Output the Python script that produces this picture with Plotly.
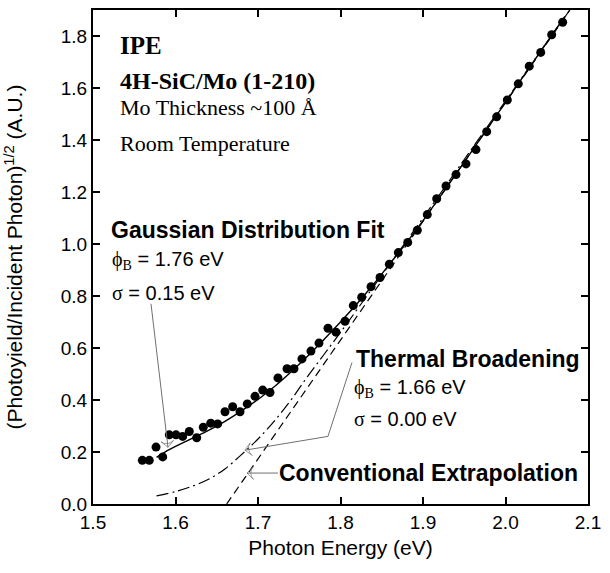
import plotly.graph_objects as go

# ---- data ----
data_x = [1.5598, 1.5682, 1.5764, 1.5845, 1.5925, 1.6006, 1.6087, 1.6167, 1.6257, 1.6337,
          1.6427, 1.6511, 1.6600, 1.6693, 1.6782, 1.6870, 1.6964, 1.7057, 1.7145, 1.7242,
          1.7352, 1.7436, 1.7533, 1.7642, 1.7739, 1.7848, 1.7945, 1.8055, 1.8155, 1.8257,
          1.8370, 1.8479, 1.8592, 1.8701, 1.8815, 1.8931, 1.9052, 1.9166, 1.9279, 1.9400,
          1.9521, 1.9642, 1.9772, 1.9893, 2.0022, 2.0155, 2.0288, 2.0427, 2.0560, 2.0693]
data_y = [0.168, 0.168, 0.219, 0.181, 0.266, 0.266, 0.260, 0.279, 0.255, 0.295,
          0.311, 0.308, 0.355, 0.374, 0.355, 0.385, 0.414, 0.438, 0.429, 0.485,
          0.520, 0.520, 0.558, 0.588, 0.619, 0.676, 0.661, 0.703, 0.763, 0.795,
          0.836, 0.871, 0.922, 0.967, 1.006, 1.053, 1.113, 1.174, 1.223, 1.267,
          1.308, 1.363, 1.432, 1.489, 1.554, 1.616, 1.684, 1.737, 1.805, 1.853]

gauss_x = [1.577, 1.59, 1.60, 1.62, 1.64, 1.66, 1.68, 1.70, 1.72, 1.74, 1.76, 1.78,
           1.80, 1.82, 1.84, 1.86, 1.88, 1.90, 1.95, 2.00, 2.05, 2.072]
gauss_y = [0.179, 0.205, 0.222, 0.252, 0.283, 0.318, 0.358, 0.402, 0.452, 0.508, 0.568, 0.633,
           0.700, 0.770, 0.845, 0.925, 1.005, 1.090, 1.315, 1.545, 1.775, 1.875]

thermal_x = [1.577, 1.60, 1.62, 1.64, 1.66, 1.68, 1.70, 1.72, 1.74, 1.76, 1.78, 1.80,
             1.85, 1.90, 1.95, 2.00, 2.05, 2.078]
thermal_y = [0.031, 0.048, 0.068, 0.095, 0.135, 0.19, 0.25, 0.32, 0.40, 0.49, 0.575, 0.66,
             0.88, 1.10, 1.325, 1.55, 1.775, 1.90]

conv_x = [1.662, 2.078]
conv_y = [0.0, 1.90]

# leader lines (tail ... tip) for the labels
lead_gauss_x = [1.5703, 1.5909]
lead_gauss_y = [0.770, 0.218]
lead_thermal_x = [1.8139, 1.7848, 1.6842]
lead_thermal_y = [0.544, 0.260, 0.207]
lead_conv_x = [1.7242, 1.6867]
lead_conv_y = [0.119, 0.119]

x_ticks = [1.5, 1.6, 1.7, 1.8, 1.9, 2.0, 2.1]
x_tick_text = ["1.5", "1.6", "1.7", "1.8", "1.9", "2.0", "2.1"]
y_ticks = [0.0, 0.2, 0.4, 0.6, 0.8, 1.0, 1.2, 1.4, 1.6, 1.8]
y_tick_text = ["0.0", "0.2", "0.4", "0.6", "0.8", "1.0", "1.2", "1.4", "1.6", "1.8"]

SANS = "Liberation Sans, Arial, sans-serif"
SERIF = "Liberation Serif, Times New Roman, serif"
GRAY = "#707070"

fig = go.Figure()
fig.add_trace(go.Scatter(x=conv_x, y=conv_y, mode="lines",
                         line=dict(color="black", width=1.2, dash="8px,5px"), showlegend=False))
fig.add_trace(go.Scatter(x=thermal_x, y=thermal_y, mode="lines", line_shape="spline",
                         line=dict(color="black", width=1.2, dash="12px,4px,2px,4px"), showlegend=False))
fig.add_trace(go.Scatter(x=gauss_x, y=gauss_y, mode="lines", line_shape="spline",
                         line=dict(color="black", width=1.4), showlegend=False))
fig.add_trace(go.Scatter(x=data_x, y=data_y, mode="markers",
                         marker=dict(color="black", size=9), showlegend=False))

for lx, ly in [(lead_gauss_x, lead_gauss_y), (lead_thermal_x, lead_thermal_y),
               (lead_conv_x, lead_conv_y)]:
    n = len(lx)
    fig.add_trace(go.Scatter(
        x=lx, y=ly, mode="lines+markers", showlegend=False, hoverinfo="skip",
        line=dict(color=GRAY, width=1),
        marker=dict(symbol=["circle"] * (n - 1) + ["arrow-wide-open"],
                    size=[0] * (n - 1) + [9], angleref="previous",
                    color=GRAY, line=dict(color=GRAY, width=1))))

def txt(x, y, s, font, size, bold=False):
    if bold:
        s = "<b>" + s + "</b>"
    fig.add_annotation(x=x, y=y, xref="x", yref="y", text=s, showarrow=False,
                       xanchor="left", yanchor="middle",
                       font=dict(family=font, size=size, color="black"))

phi = "<span style='font-family:Liberation Serif'>ϕ<sub>B</sub></span>"
sig = "<span style='font-family:Liberation Serif'>σ</span>"

txt(1.5303, 1.762, "IPE", SERIF, 25, True)
txt(1.5303, 1.626, "4H-SiC/Mo (1-210)", SERIF, 24, True)
txt(1.5303, 1.524, "Mo Thickness ~100 Å", SERIF, 22)
txt(1.5303, 1.386, "Room Temperature", SERIF, 22)
txt(1.5190, 1.053, "Gaussian Distribution Fit", SANS, 23, True)
txt(1.5206, 0.938, phi + " = 1.76 eV", SANS, 20)
txt(1.5206, 0.812, sig + " = 0.15 eV", SANS, 20)
txt(1.8160, 0.559, "Thermal Broadening", SANS, 23, True)
txt(1.8140, 0.444, phi + " = 1.66 eV", SANS, 20)
txt(1.8140, 0.326, sig + " = 0.00 eV", SANS, 20)
txt(1.7230, 0.119, "Conventional Extrapolation", SANS, 23, True)

axis_common = dict(showline=True, linewidth=2, linecolor="black", mirror="ticks",
                   ticks="inside", ticklen=7, tickwidth=2, tickcolor="black",
                   showgrid=False, zeroline=False,
                   tickfont=dict(family=SANS, size=19, color="black"))

fig.update_xaxes(range=[1.5, 2.1], tickvals=x_ticks, ticktext=x_tick_text,
                 title=dict(text="Photon Energy (eV)", font=dict(family=SANS, size=21, color="black"),
                            standoff=9),
                 **axis_common)
fig.update_yaxes(range=[0, 1.9], tickvals=y_ticks, ticktext=y_tick_text,
                 title=dict(text="(Photoyield/Incident Photon)<sup>1/2</sup> (A.U.)",
                            font=dict(family=SANS, size=21, color="black"), standoff=32),
                 **axis_common)

fig.update_layout(width=610, height=573, margin=dict(l=93, r=22, t=8, b=69),
                  paper_bgcolor="white", plot_bgcolor="white")

fig.write_html("out.html")
